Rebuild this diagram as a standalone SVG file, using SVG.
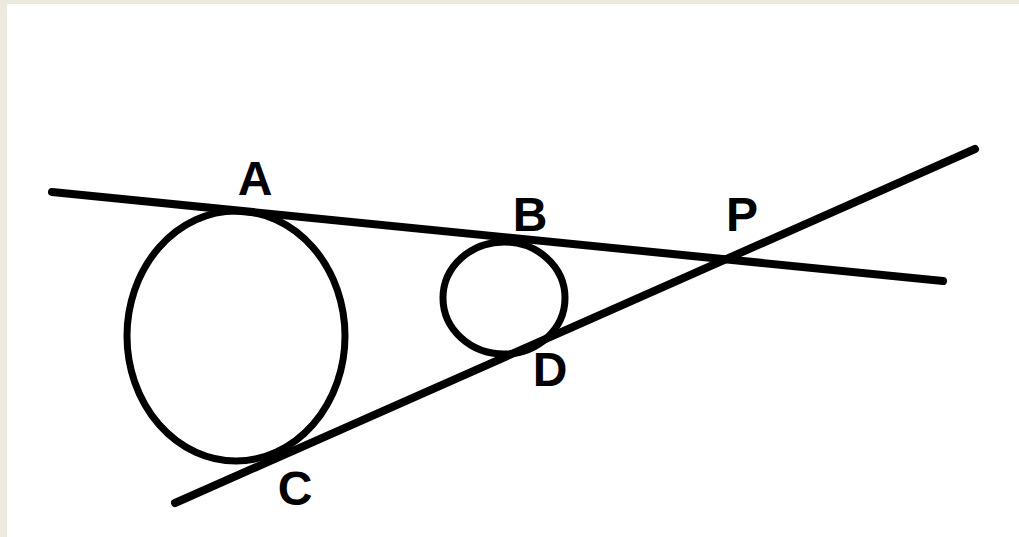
<svg xmlns="http://www.w3.org/2000/svg" width="1019" height="537" viewBox="0 0 1019 537">
<style>
.ln{stroke:#000;stroke-width:8;stroke-linecap:round;fill:none}
.cr{stroke:#000;stroke-width:7;fill:none}
.lb{font-family:"Liberation Sans",Arial,sans-serif;font-weight:bold;font-size:48px;fill:#000;text-anchor:middle}
</style>
<rect x="0" y="0" width="1019" height="537" fill="#ECE9DF"/>
<rect x="7" y="4" width="1012" height="533" fill="#FFFFFF"/>
<g id="connectors">
<line class="ln" x1="52" y1="192" x2="943" y2="281"/>
<line class="ln" x1="175" y1="503" x2="975" y2="149"/>
</g>
<g id="circle-large"><ellipse class="cr" cx="236" cy="336" rx="109" ry="125"/></g>
<g id="circle-small"><ellipse class="cr" cx="504" cy="298" rx="61" ry="56"/></g>
<g id="label-A"><text class="lb" x="255" y="195">A</text></g>
<g id="label-B"><text class="lb" x="530" y="231">B</text></g>
<g id="label-P"><text class="lb" x="742" y="231">P</text></g>
<g id="label-D"><text class="lb" x="550" y="386">D</text></g>
<g id="label-C"><text class="lb" x="295" y="505">C</text></g>
</svg>
